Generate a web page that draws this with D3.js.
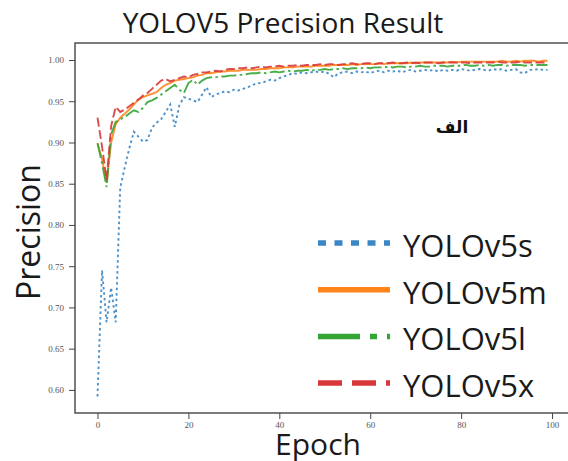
<!DOCTYPE html>
<meta charset="utf-8">
<style>
  body { margin: 0; background: #fff; }
  text { font-family: "Open Sans", sans-serif; }
  .tick text { font-family: "Liberation Serif", serif; font-size: 9px; fill: #555; }
  .tick line { stroke: #444; }
</style>
<body></body>
<script src="https://d3js.org/d3.v7.min.js"></script>
<script>

var width = 568,
    height = 461;

// precision per epoch (0..99)
var yolov5s = [
  0.592, 0.745, 0.682, 0.724, 0.682, 0.845, 0.870, 0.893, 0.913, 0.907,
  0.901, 0.903, 0.918, 0.924, 0.928, 0.937, 0.946, 0.919, 0.945, 0.955,
  0.953, 0.951, 0.949, 0.958, 0.967, 0.955, 0.958, 0.960, 0.962, 0.961,
  0.964, 0.963, 0.965, 0.967, 0.969, 0.972, 0.972, 0.974, 0.976, 0.975,
  0.978, 0.980, 0.982, 0.984, 0.983, 0.985, 0.984, 0.985, 0.986, 0.985,
  0.986, 0.983, 0.979, 0.984, 0.985, 0.986, 0.984, 0.986, 0.985, 0.986,
  0.984, 0.986, 0.987, 0.985, 0.987, 0.986, 0.987, 0.985, 0.987, 0.988,
  0.986, 0.987, 0.988, 0.987, 0.988, 0.986, 0.988, 0.987, 0.988, 0.987,
  0.989, 0.988, 0.987, 0.988, 0.989, 0.988, 0.987, 0.989, 0.988, 0.989,
  0.987, 0.988, 0.989, 0.985, 0.984, 0.988, 0.988, 0.989, 0.988, 0.988
];
var yolov5m = [
  0.899, 0.880, 0.851, 0.900, 0.922, 0.930, 0.935, 0.940, 0.946, 0.952,
  0.955, 0.957, 0.959, 0.961, 0.966, 0.970, 0.972, 0.975, 0.976, 0.977,
  0.978, 0.979, 0.981, 0.982, 0.984, 0.984, 0.985, 0.986, 0.986, 0.987,
  0.987, 0.987, 0.988, 0.988, 0.988, 0.988, 0.989, 0.989, 0.990, 0.990,
  0.990, 0.991, 0.991, 0.991, 0.992, 0.992, 0.992, 0.992, 0.993, 0.993,
  0.993, 0.993, 0.994, 0.994, 0.994, 0.994, 0.995, 0.994, 0.995, 0.995,
  0.995, 0.995, 0.996, 0.995, 0.996, 0.996, 0.996, 0.996, 0.996, 0.997,
  0.996, 0.997, 0.997, 0.997, 0.997, 0.997, 0.997, 0.997, 0.998, 0.997,
  0.998, 0.998, 0.998, 0.998, 0.998, 0.998, 0.998, 0.998, 0.998, 0.999,
  0.998, 0.998, 0.999, 0.998, 0.999, 0.999, 0.999, 0.998, 0.999, 0.999
];
var yolov5l = [
  0.899, 0.875, 0.846, 0.910, 0.925, 0.928, 0.931, 0.935, 0.939, 0.937,
  0.942, 0.949, 0.951, 0.954, 0.958, 0.962, 0.966, 0.970, 0.964, 0.960,
  0.972, 0.976, 0.970, 0.975, 0.978, 0.979, 0.979, 0.980, 0.980, 0.981,
  0.981, 0.982, 0.982, 0.983, 0.984, 0.984, 0.985, 0.984, 0.985, 0.986,
  0.985, 0.986, 0.987, 0.986, 0.987, 0.987, 0.988, 0.987, 0.988, 0.988,
  0.989, 0.988, 0.989, 0.989, 0.990, 0.989, 0.990, 0.990, 0.990, 0.991,
  0.990, 0.991, 0.991, 0.991, 0.992, 0.991, 0.992, 0.992, 0.991, 0.992,
  0.992, 0.993, 0.992, 0.992, 0.993, 0.993, 0.993, 0.992, 0.993, 0.993,
  0.993, 0.994, 0.993, 0.993, 0.994, 0.993, 0.994, 0.993, 0.994, 0.994,
  0.993, 0.994, 0.994, 0.994, 0.993, 0.994, 0.994, 0.994, 0.994, 0.994
];
var yolov5x = [
  0.930, 0.895, 0.855, 0.920, 0.943, 0.937, 0.940, 0.944, 0.948, 0.952,
  0.957, 0.960, 0.965, 0.970, 0.975, 0.977, 0.974, 0.976, 0.978, 0.980,
  0.979, 0.982, 0.983, 0.985, 0.985, 0.986, 0.987, 0.986, 0.988, 0.989,
  0.989, 0.990, 0.990, 0.991, 0.990, 0.991, 0.992, 0.991, 0.992, 0.992,
  0.993, 0.992, 0.993, 0.993, 0.994, 0.993, 0.994, 0.994, 0.994, 0.995,
  0.994, 0.995, 0.995, 0.994, 0.995, 0.995, 0.996, 0.995, 0.995, 0.996,
  0.996, 0.995, 0.996, 0.996, 0.996, 0.997, 0.996, 0.996, 0.997, 0.996,
  0.997, 0.996, 0.997, 0.997, 0.997, 0.996, 0.997, 0.997, 0.997, 0.997,
  0.997, 0.997, 0.996, 0.997, 0.997, 0.997, 0.997, 0.997, 0.998, 0.997,
  0.997, 0.997, 0.997, 0.998, 0.997, 0.997, 0.997, 0.997, 0.997, 0.997
];

var names = ["YOLOv5s", "YOLOv5m", "YOLOv5l", "YOLOv5x"];
var colors = ["#3b86c4", "#ff8419", "#34a535", "#d8383a"];
var yTicks = [0.60, 0.65, 0.70, 0.75, 0.80, 0.85, 0.90, 0.95, 1.00];
var xTicks = [0, 20, 40, 60, 80, 100];

var seriesData = [yolov5s, yolov5m, yolov5l, yolov5x];
// chart dash / legend dash per series
var dashes = ["2.5 3", null, "15 3.5 2.5 3.5", "9 3.5"];
var legendDashes = ["8 8.5", null, "42 10 7 10", "24 10"];

var svg = d3.select("body").append("svg")
    .attr("width", width)
    .attr("height", height);

var x = d3.scaleLinear().domain([-4.95, 103.95]).range([75, 570]);
var y = d3.scaleLinear().domain([0.572, 1.0206]).range([413, 43]);

svg.append("g")
    .attr("transform", "translate(75,0)")
    .call(d3.axisLeft(y).tickValues(yTicks).tickFormat(d3.format(".2f"))
      .tickSize(6).tickPadding(5).tickSizeOuter(0))
    .call(function(g) { g.select(".domain").remove(); });

svg.append("g")
    .attr("transform", "translate(0,413)")
    .call(d3.axisBottom(x).tickValues(xTicks).tickFormat(d3.format("d"))
      .tickSize(6).tickPadding(3).tickSizeOuter(0))
    .call(function(g) { g.select(".domain").remove(); });

// frame
svg.append("rect")
    .attr("x", x.range()[0])
    .attr("y", y.range()[1])
    .attr("width", x.range()[1] - x.range()[0])
    .attr("height", y.range()[0] - y.range()[1])
    .attr("fill", "none")
    .attr("stroke", "#444")
    .attr("stroke-width", 1.4);

var line = d3.line()
    .x(function(d, i) { return x(i); })
    .y(function(d) { return y(d); });

svg.append("g")
  .selectAll("path")
  .data(seriesData)
  .enter().append("path")
    .attr("d", line)
    .attr("fill", "none")
    .attr("stroke", function(d, i) { return colors[i]; })
    .attr("stroke-width", 1.9)
    .attr("stroke-opacity", 0.9)
    .attr("stroke-dasharray", function(d, i) { return dashes[i]; });

// title and axis labels
svg.append("text")
    .attr("x", 283)
    .attr("y", 33)
    .attr("text-anchor", "middle")
    .style("font-size", "28px")
    .attr("fill", "#1a1a1a")
    .text("YOLOV5 Precision Result");

svg.append("text")
    .attr("x", 318)
    .attr("y", 455)
    .attr("text-anchor", "middle")
    .style("font-size", "30px")
    .attr("fill", "#1a1a1a")
    .text("Epoch");

svg.append("text")
    .attr("transform", "translate(40,232) rotate(-90)")
    .attr("text-anchor", "middle")
    .style("font-size", "32px")
    .attr("fill", "#1a1a1a")
    .text("Precision");

svg.append("text")
    .attr("x", 452)
    .attr("y", 133)
    .attr("text-anchor", "middle")
    .style("font-family", "'DejaVu Sans', sans-serif")
    .style("font-size", "17px")
    .style("font-weight", "bold")
    .attr("fill", "#111")
    .text("الف");

// legend
var legend = svg.append("g")
  .selectAll("g")
  .data(names)
  .enter().append("g")
    .attr("transform", function(d, i) { return "translate(318," + (243 + i * 46.7) + ")"; });

legend.append("line")
    .attr("x1", 0)
    .attr("x2", 72)
    .attr("stroke", function(d, i) { return colors[i]; })
    .attr("stroke-width", 5.5)
    .attr("stroke-dasharray", function(d, i) { return legendDashes[i]; });

legend.append("text")
    .attr("x", 85)
    .attr("y", 14)
    .style("font-size", "31px")
    .attr("fill", "#1a1a1a")
    .text(function(d) { return d; });

</script>
